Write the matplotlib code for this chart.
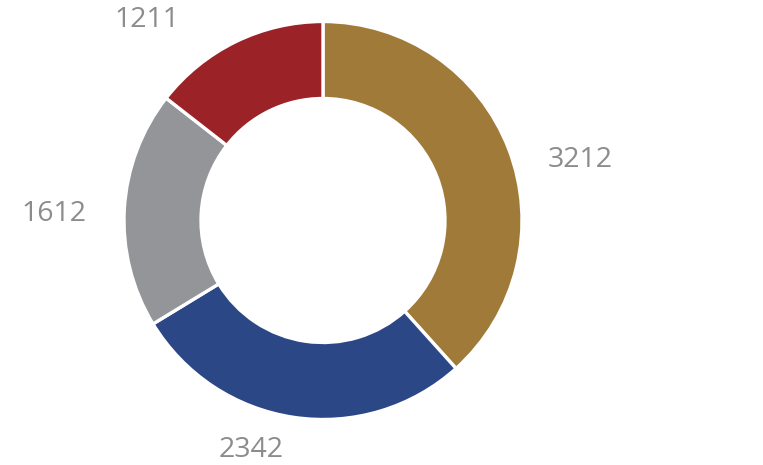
import matplotlib
matplotlib.use('Agg')
import matplotlib.pyplot as plt

# 数据
labels = ['3212', '2342', '1612', '1211']
values = [3212, 2342, 1612, 1211]
colors = ['#A07A38', '#2B4785', '#939598', '#9B2328']
# 标签位置 (像素, 原点在左上)
label_pos = [(580, 160), (251, 450), (54, 214), (147, 20)]

W, H = 763, 465
fig = plt.figure(figsize=(W / 100, H / 100), dpi=100)
ax = fig.add_axes([0, 0, 1, 1])

ax.pie(values, colors=colors, startangle=90, counterclock=False,
       radius=199, center=(323, H - 220.5),
       wedgeprops=dict(width=77, edgecolor='white', linewidth=2.4))

for lab, (x, y) in zip(labels, label_pos):
    ax.text(x, H - y, lab, ha='center', va='center', fontsize=20.5,
            color='#8C8C8C', family=['Open Sans', 'DejaVu Sans'])

ax.set_xlim(0, W)
ax.set_ylim(0, H)
ax.set_aspect('equal')
ax.axis('off')

plt.savefig('out.png', dpi=100)
plt.close()
